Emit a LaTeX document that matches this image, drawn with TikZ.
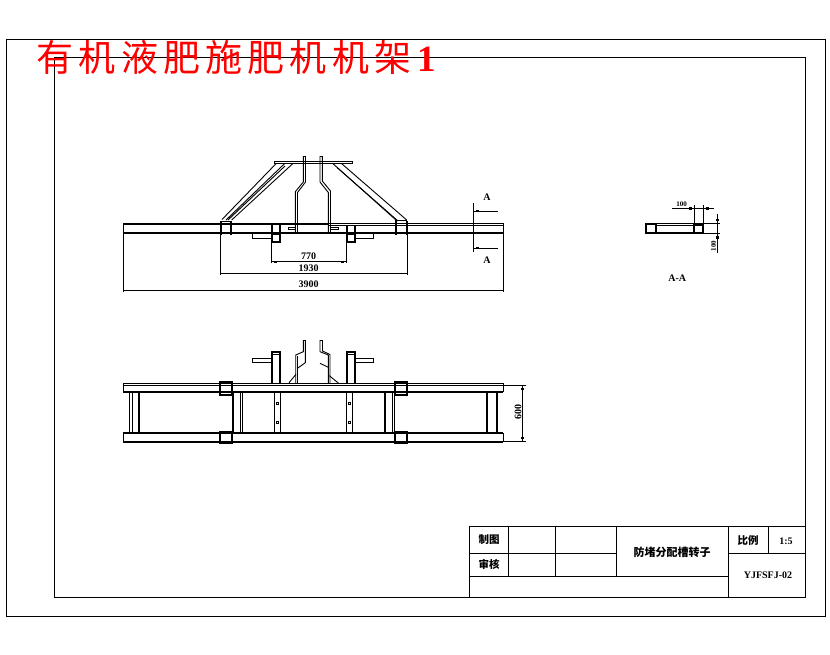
\documentclass[tikz,border=0pt]{standalone}
\usepackage{fontspec}
\setmainfont{Liberation Serif}
\newfontfamily\cjk{Noto Sans CJK SC}
\tikzset{
  thin line/.style={line width=0.9pt,black},
  thick line/.style={line width=2pt,black},
  tick mark/.style={fill=black,draw=none},
  dimtext/.style={font=\bfseries\fontsize{10}{10}\selectfont,inner sep=0pt},
  cntext/.style={font=\cjk\bfseries\fontsize{10.5}{11}\selectfont,inner sep=0pt},
}
\newcommand{\tickat}[2]{\fill (#1-1.5,#2-1.2) rectangle (#1+1.5,#2+1.2);}
\begin{document}
\begin{tikzpicture}[x=1pt,y=-1pt,line join=miter]
\useasboundingbox (0,0) rectangle (830,654);
\fill[white] (0,0) rectangle (830,654);
% frames
\draw[thin line] (6.5,39) rectangle (825,616);
\draw[thin line] (54,57) rectangle (805.3,597.7);
% title
\node[anchor=base west,inner sep=0pt,text=red,font=\cjk\fontsize{37}{37}\selectfont] (title) at (36.5,71.5)
 {有\kern5.2pt 机\kern5.2pt 液\kern5.2pt 肥\kern5.2pt 施\kern5.2pt 肥\kern5.2pt 机\kern5.2pt 机\kern5.2pt 架\kern6pt{\rmfamily\bfseries 1}};
% --- front view ---
\draw[thick line] (123,224) -- (328,224);
\draw[thin line] (328,223.3) -- (503,223.3) (328,225.6) -- (503,225.6);
\draw[thick line] (123,233) -- (503,233);
\draw[thin line] (123.3,224) -- (123.3,233) (503,223.3) -- (503,233);
\draw[thick line] (220.5,222) -- (220.5,235) (231,222) -- (231,235);
\draw[thick line] (396,221) -- (396,235) (406.7,221) -- (406.7,235);
\draw[thin line] (220,221) -- (232,221) (395,220.5) -- (407,220.5);
% braces
\draw[thin line] (222,219.5) -- (276,163.7) (231.7,220) -- (292.7,163.7);
\draw[thin line] (226,220) -- (284.5,163.7) (228,220) -- (285,166);
\draw[thin line] (333,163.7) -- (396,220) (341.7,163.7) -- (406.7,220);
\draw[thin line] (337,167.5) -- (398,221);
% top plate
\draw[thin line] (274,161.7) rectangle (352.7,163.9);
% posts
\draw[thin line] (303.3,156) -- (303.3,182) -- (295.3,191.7) -- (295.3,232);
\draw[thin line] (305.5,156) -- (305.5,182) -- (297.5,192.5) -- (297.5,232);
\draw[thin line] (303.3,156) -- (305.5,156);
\draw[thin line] (320,156) -- (320,182) -- (328.3,192.5) -- (328.3,232);
\draw[thin line] (322.3,156) -- (322.3,181) -- (330.5,191) -- (330.5,232);
\draw[thin line] (320,156) -- (322.3,156);
\draw[thin line] (288.3,227.3) rectangle (295.3,229.3);
\draw[thin line] (330.5,227.3) rectangle (338.3,229.3);
% brackets
\draw[thick line] (271.7,225) -- (271.7,241.7) -- (280,241.7) -- (280,225);
\draw[thin line] (271.7,234.3) -- (280,234.3);
\draw[thin line] (252.3,233) -- (252.3,238.3) -- (271.7,238.3);
\draw[thick line] (346.7,225) -- (346.7,241.7) -- (355,241.7) -- (355,225);
\draw[thin line] (346.7,234.3) -- (355,234.3);
\draw[thin line] (373.3,233) -- (373.3,238.3) -- (355,238.3);
% dimensions front
\draw[thin line] (271.7,241.7) -- (271.7,263) (346.7,241.7) -- (346.7,263);
\draw[thin line] (271.7,261.7) -- (346.7,261.7);
\tickat{275}{261.7} \tickat{342.3}{261.7}
\node[dimtext] (d770) at (308.5,256) {770};
\draw[thin line] (220,234) -- (220,275) (407,234) -- (407,275);
\draw[thin line] (220,273.3) -- (407,273.3);
\fill (222,272.8) rectangle (225,273.8); \fill (402,272.8) rectangle (405,273.8);
\node[dimtext] (d1930) at (308.5,268) {1930};
\draw[thin line] (123.3,233) -- (123.3,292) (503,233) -- (503,292);
\draw[thin line] (123.3,290) -- (503,290);
\fill (126,289.5) rectangle (129,290.5); \fill (497,289.5) rectangle (500.5,290.5);
\node[dimtext] (d3900) at (308.5,284) {3900};
% section marks
\draw[thin line] (473.3,203) -- (473.3,252);
\draw[thin line] (473.3,211) -- (498,211) (473.3,248) -- (498,248);
\tickat{477.5}{211} \tickat{477.5}{248}
\node[dimtext] (a1) at (487,197.5) {A};
\node[dimtext] (a2) at (487,260.5) {A};
% --- plan view ---
\draw[thin line] (123.3,383.3) -- (503.3,383.3) (123.3,385.3) -- (503.3,385.3);
\draw[thick line] (123.3,392.3) -- (503.3,392.3);
\draw[thin line] (123.3,383.3) -- (123.3,392.3) (503.3,383.3) -- (503.3,392.3);
\draw[thick line] (123.3,433) -- (503.3,433) (123.3,442) -- (503.3,442);
\draw[thin line] (123.3,433) -- (123.3,442) (503.3,433) -- (503.3,442);
% clamps
\draw[thick line] (220,382.3) rectangle (232,395);
\draw[thick line] (220,431.7) rectangle (232,443.3);
\draw[thick line] (395.3,382.3) rectangle (407.3,395);
\draw[thick line] (395.3,431.7) rectangle (407.3,443.3);
% cross bars
\draw[thin line] (129.3,392) -- (129.3,433) (132,392) -- (132,433);
\draw[thick line] (139,392) -- (139,433);
\draw[thick line] (232.7,392) -- (232.7,433);
\draw[thin line] (240,392) -- (240,433) (242.3,392) -- (242.3,433);
\draw[thick line] (385,392) -- (385,433);
\draw[thin line] (392.3,392) -- (392.3,433) (394.7,392) -- (394.7,433);
\draw[thick line] (486.7,392) -- (486.7,433) (496.7,392) -- (496.7,433);
% mid plates
\draw[thin line] (274.3,392) -- (274.3,433) (280.3,392) -- (280.3,433);
\draw[thin line] (346.7,392) -- (346.7,433) (352.7,392) -- (352.7,433);
\draw[thin line] (276,402.5) rectangle (278,404.5) (276,421) rectangle (278,423);
\draw[thin line] (348.5,402) rectangle (350.5,404) (348.5,421.5) rectangle (350.5,423.5);
% upper columns
\draw[thick line] (271.7,383) -- (271.7,352.3) -- (280,352.3) -- (280,383);
\draw[thin line] (271.7,354.6) -- (280,354.6);
\draw[thin line] (252.3,358.3) rectangle (271.7,362.7);
\draw[thick line] (346.7,383) -- (346.7,352.3) -- (355,352.3) -- (355,383);
\draw[thin line] (346.7,354.6) -- (355,354.6);
\draw[thin line] (355,358.3) rectangle (373.3,362.7);
% centre pieces
\draw[thin line] (303.3,340) -- (303.3,351.7) -- (295.7,355) -- (295.7,383);
\draw[thin line] (305.3,340) -- (305.3,362.7) -- (297.5,368.3);
\draw[thin line] (297.5,356) -- (297.5,383);
\draw[thin line] (303.3,340) -- (305.3,340);
\draw[thin line] (289,382.7) -- (296,374.3);
\draw[thin line] (320,340) -- (320,351.7) -- (328.3,355) -- (328.3,383);
\draw[thin line] (322.5,340) -- (322.5,351) -- (330,354.5) -- (330,383);
\draw[thin line] (320,340) -- (322.5,340);
\draw[thin line] (320,363.3) -- (328.3,367.3);
\draw[thin line] (329.3,375.7) -- (338.3,383);
% dimension 600
\draw[thin line] (503.3,385) -- (526,385) (503.3,441.3) -- (526,441.3);
\draw[thin line] (522.3,385) -- (522.3,441.3);
\tickat{522.3}{388.7} \tickat{522.3}{437.7}
\node[dimtext,rotate=90] (d600) at (518,411.5) {600};
% --- section A-A ---
\draw[thick line] (645.7,223.8) rectangle (655.7,233);
\draw[thick line] (694.3,225) rectangle (703.3,233);
\draw[thin line] (645.7,223.3) -- (720,223.3);
\draw[thin line] (655.7,225.7) -- (694.3,225.7);
\draw[thick line] (655.7,233) -- (694.3,233);
\draw[thin line] (694.3,205) -- (694.3,224) (703.3,205) -- (703.3,224);
\draw[thin line] (672.3,208.3) -- (714,208.3);
\tickat{690.5}{208.3} \tickat{707.5}{208.3}
\node[dimtext,font=\bfseries\fontsize{7}{7}\selectfont] (d100) at (681.5,204.5) {100};
\draw[thin line] (703.3,233.3) -- (720,233.3);
\draw[thin line] (717.3,214) -- (717.3,253);
\tickat{717.3}{220} \tickat{717.3}{237.3}
\node[dimtext,font=\bfseries\fontsize{7}{7}\selectfont,rotate=90] (d50) at (713.5,246) {100};
\node[dimtext] (aa) at (677.3,278) {A-A};
% --- title block ---
\draw[thin line] (469.3,597.7) -- (469.3,526) -- (805.3,526);
\draw[thin line] (469.3,553.3) -- (616.7,553.3);
\draw[thin line] (469.3,576) -- (728.7,576);
\draw[thin line] (728.7,553.7) -- (805.3,553.7);
\draw[thin line] (508.3,526) -- (508.3,576) (555.7,526) -- (555.7,576) (616.7,526) -- (616.7,576);
\draw[thin line] (728.7,526) -- (728.7,597.7) (768.3,526) -- (768.3,553.7);
\node[cntext] (t1) at (489,540) {制图};
\node[cntext] (t2) at (489,564) {审核};
\node[cntext,font=\cjk\bfseries\fontsize{11}{11}\selectfont] (t3) at (672,552) {防堵分配槽转子};
\node[cntext] (t4) at (748,541) {比例};
\node[dimtext] (t5) at (786,541) {1:5};
\node[dimtext] (t6) at (768,575) {YJFSFJ-02};
\end{tikzpicture}
\end{document}
